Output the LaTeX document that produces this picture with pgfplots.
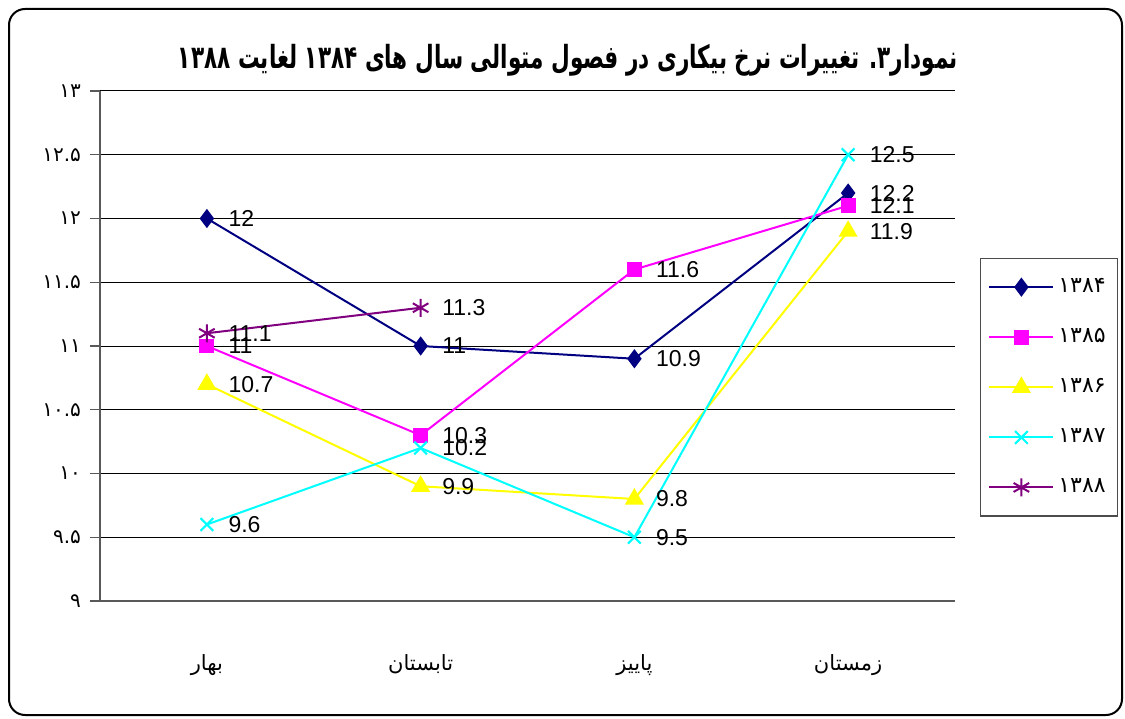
\documentclass[border=0pt]{standalone}
\usepackage{fontspec}
\setmainfont{Liberation Sans}
\newfontfamily\arabicfont[Script=Arabic]{DejaVu Sans}
\usepackage{graphicx}
\usepackage{pgfplots}
\pgfplotsset{compat=1.18}
\TeXXeTstate=1
\definecolor{cA}{RGB}{0,0,128}
\definecolor{cB}{RGB}{255,0,255}
\definecolor{cC}{RGB}{255,255,0}
\definecolor{cD}{RGB}{0,255,255}
\definecolor{cE}{RGB}{128,0,128}
\begin{document}
\begin{tikzpicture}
\path (0pt,0pt) rectangle (562.5pt,359pt);
\draw[rounded corners=8pt, line width=1pt] (4.5pt,1.5pt) rectangle (561pt,354.5pt);
\node[font=\arabicfont\bfseries, line width=0.3pt] at (284pt,329pt) {\resizebox*{390pt}{16pt}{\beginR نمودار۳. تغییرات نرخ بیکاری در فصول متوالی سال های ۱۳۸۴ لغایت ۱۳۸۸\endR}};
\begin{axis}[
  at={(50pt,58.5pt)}, anchor=south west,
  scale only axis, width=427.5pt, height=255pt,
  xmin=-0.5, xmax=3.5, ymin=9, ymax=13,
  axis x line*=bottom, axis y line*=left,
  axis line style={-, draw=black!65, line width=1pt},
  ymajorgrids, grid style={black, line width=0.5pt},
  ytick={9,9.5,10,10.5,11,11.5,12,12.5,13},
  yticklabels={۹,۹.۵,۱۰,۱۰.۵,۱۱,۱۱.۵,۱۲,۱۲.۵,۱۳},
  yticklabel style={font=\arabicfont\fontsize{10}{12}\selectfont, xshift=-1pt},
  xtick={0,1,2,3},
  xticklabels={{\beginR بهار\endR},{\beginR تابستان\endR},{\beginR پاییز\endR},{\beginR زمستان\endR}},
  xticklabel style={font=\arabicfont\fontsize{10.5}{12}\selectfont, yshift=-18pt},
  x tick style={draw=none},
  extra x ticks={-0.5,0.5,1.5,2.5,3.5},
  extra x tick labels={},
  extra x tick style={tick style={draw=black!65, line width=0.6pt}},
  tick align=outside, major tick length=5pt,
  y tick style={draw=black!65, line width=0.6pt},
  clip=false,
  nodes near coords={\pgfmathprintnumber[assume math mode=true]{\pgfplotspointmeta}},
  every node near coord/.append style={anchor=west, xshift=7pt, text=black, font=\fontsize{11.5}{13}\selectfont},
  legend style={at={(1.029,0.6725)}, anchor=north west, draw=black!70, line width=0.6pt,
    font=\arabicfont\fontsize{11}{12}\selectfont, row sep=12.5pt, inner xsep=4pt, inner ysep=8pt},
  legend cell align=left,
  legend image code/.code={\draw[mark repeat=2,mark phase=2,#1] plot coordinates {(0pt,0pt)(16pt,0pt)(32pt,0pt)};},
]
\addplot[color=cA, line width=1pt, mark=diamond*, mark size=4pt, mark options={solid}] coordinates {(0,12)(1,11)(2,10.9)(3,12.2)};
\addplot[color=cB, line width=1pt, mark=square*, mark size=3.2pt, mark options={solid}] coordinates {(0,11)(1,10.3)(2,11.6)(3,12.1)};
\addplot[color=cC, line width=1pt, mark=triangle*, mark size=4.5pt, mark options={solid}] coordinates {(0,10.7)(1,9.9)(2,9.8)(3,11.9)};
\addplot[color=cD, line width=1pt, mark=x, mark size=4.5pt, mark options={solid}] coordinates {(0,9.6)(1,10.2)(2,9.5)(3,12.5)};
\addplot[color=cE, line width=1pt, mark=asterisk, mark size=4.5pt, mark options={solid}] coordinates {(0,11.1)(1,11.3)};
\legend{۱۳۸۴,۱۳۸۵,۱۳۸۶,۱۳۸۷,۱۳۸۸}
\end{axis}
\end{tikzpicture}
\end{document}
